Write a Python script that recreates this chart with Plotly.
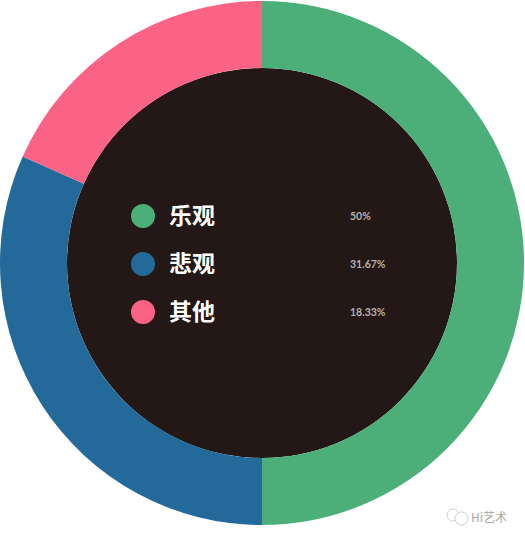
import plotly.graph_objects as go

categories = ["乐观", "悲观", "其他"]
values = [50, 31.67, 18.33]
value_labels = ["50%", "31.67%", "18.33%"]
colors = ["#4CAF79", "#236A9A", "#FB6386"]

W, H = 525, 540
CX, CY, R = 262, 263, 262
HOLE_R = 195
ROW_Y = [216, 264, 312]


def px(x):
    return x / W


def py(y):
    return 1 - y / H


fig = go.Figure()

fig.add_trace(
    go.Pie(
        labels=categories,
        values=values,
        sort=False,
        direction="clockwise",
        rotation=0,
        hole=HOLE_R / R,
        textinfo="none",
        hoverinfo="label+text",
        hovertext=value_labels,
        marker={"colors": colors, "line": {"width": 0}},
        domain={"x": [px(CX - R), px(CX + R)], "y": [py(CY + R), py(CY - R)]},
    )
)

shapes = [
    # dark centre of the ring
    {
        "type": "circle",
        "xref": "paper",
        "yref": "paper",
        "x0": px(CX - HOLE_R),
        "x1": px(CX + HOLE_R),
        "y0": py(CY + HOLE_R),
        "y1": py(CY - HOLE_R),
        "fillcolor": "#231815",
        "line": {"width": 0},
        "layer": "below",
    }
]
annotations = []

for name, label, color, y in zip(categories, value_labels, colors, ROW_Y):
    shapes.append(
        {
            "type": "circle",
            "xref": "paper",
            "yref": "paper",
            "x0": px(131),
            "x1": px(155),
            "y0": py(y + 12),
            "y1": py(y - 12),
            "fillcolor": color,
            "line": {"width": 0},
        }
    )
    annotations.append(
        {
            "x": px(167),
            "y": py(y - 2),
            "xref": "paper",
            "yref": "paper",
            "xanchor": "left",
            "yanchor": "middle",
            "text": f"<b>{name}</b>",
            "showarrow": False,
            "font": {"family": "Noto Sans CJK SC", "size": 23, "color": "#FFFFFF"},
        }
    )
    annotations.append(
        {
            "x": px(348),
            "y": py(y),
            "xref": "paper",
            "yref": "paper",
            "xanchor": "left",
            "yanchor": "middle",
            "text": f"<b>{label}</b>",
            "showarrow": False,
            "font": {"family": "Lato", "size": 10.5, "color": "#B5B0AE"},
        }
    )

# watermark in the lower right corner
annotations.append(
    {
        "x": px(469),
        "y": py(516),
        "xref": "paper",
        "yref": "paper",
        "xanchor": "left",
        "yanchor": "middle",
        "text": "Hi艺术",
        "showarrow": False,
        "font": {"family": "Noto Sans CJK SC", "size": 12, "color": "#A8A8A8"},
    }
)
for x0, y0, d in [(447, 509, 12), (455, 512, 13)]:
    shapes.append(
        {
            "type": "circle",
            "xref": "paper",
            "yref": "paper",
            "x0": px(x0),
            "x1": px(x0 + d),
            "y0": py(y0 + d),
            "y1": py(y0),
            "fillcolor": "rgba(255,255,255,0.9)",
            "line": {"width": 1, "color": "#D0D0D0"},
        }
    )

fig.update_layout(
    width=W,
    height=H,
    margin={"l": 0, "r": 0, "t": 0, "b": 0},
    paper_bgcolor="#FFFFFF",
    plot_bgcolor="#FFFFFF",
    showlegend=False,
    shapes=shapes,
    annotations=annotations,
)

# the page's default body margin would push the figure off the window
fig.write_html(
    "out.html",
    config={"displayModeBar": False},
    post_script="document.body.style.margin = '0'; document.body.style.overflow = 'hidden';",
)
